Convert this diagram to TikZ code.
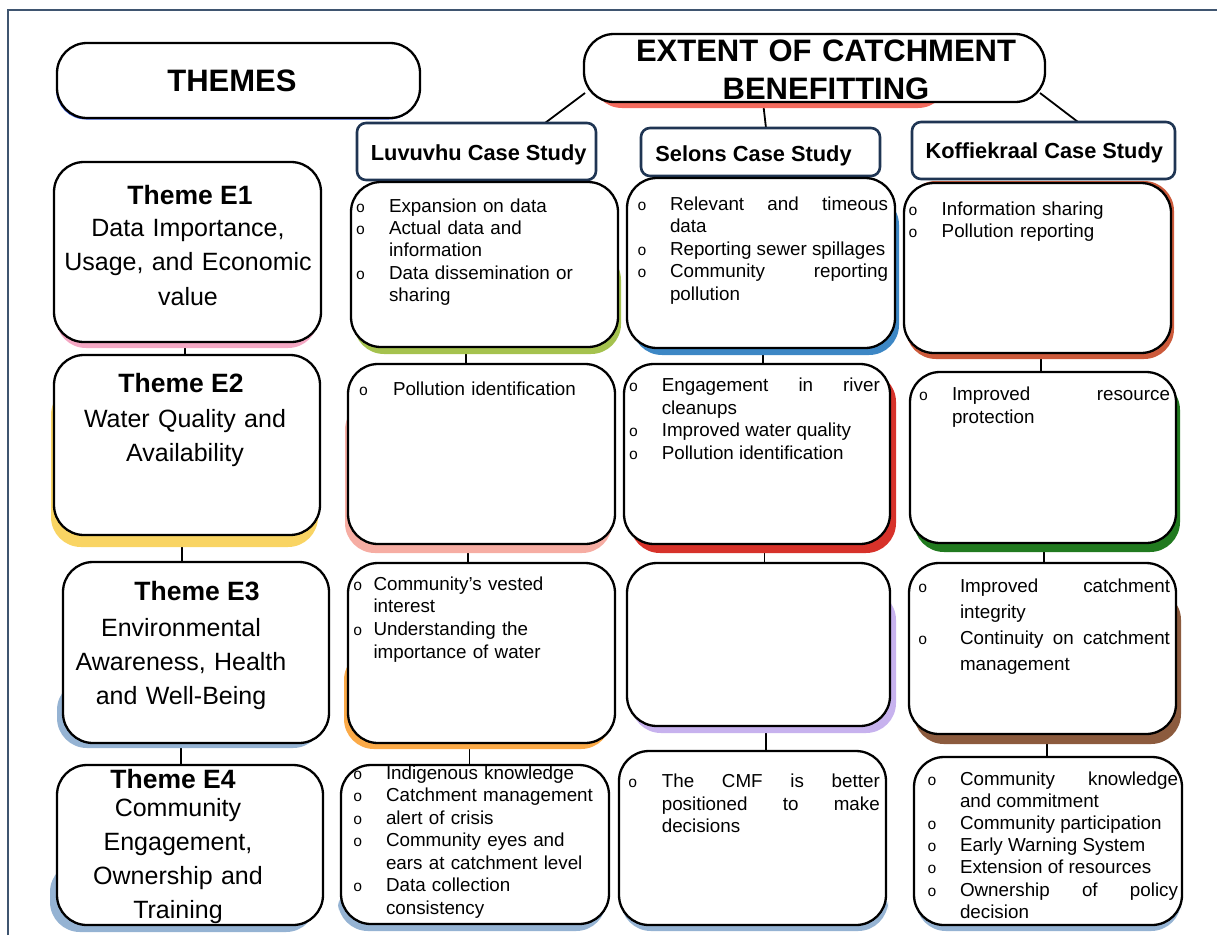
\documentclass[tikz,border=0pt]{standalone}
\usepackage{fontspec}
\setmainfont{Liberation Sans}
\newfontfamily\bulletfont{Liberation Mono}

\definecolor{framec}{HTML}{3F5570}
\definecolor{navy}{HTML}{1F3553}
\definecolor{shthemes}{HTML}{3A5CE0}
\definecolor{shext}{HTML}{F46B5E}
\definecolor{shpink}{HTML}{F4A7C3}
\definecolor{shyellow}{HTML}{F9D463}
\definecolor{shgrey}{HTML}{95B3D3}
\definecolor{shlime}{HTML}{A5C24E}
\definecolor{shsalmon}{HTML}{F6ADA3}
\definecolor{shorange}{HTML}{FBAA48}
\definecolor{shblue}{HTML}{3D87C5}
\definecolor{shred}{HTML}{D7322A}
\definecolor{shlilac}{HTML}{C7B2EE}
\definecolor{shrust}{HTML}{CC5A3B}
\definecolor{shgreen}{HTML}{217A1F}
\definecolor{shbrown}{HTML}{8C5B3E}

\pgfdeclarelayer{links}
\pgfdeclarelayer{shade}
\pgfsetlayers{links,shade,main}

\newlength\bd
% one bullet point: hollow circle hanging \bd to the left of the text
\newcommand\itm[1]{\leavevmode\llap{\makebox[0pt][c]{\bulletfont\fontsize{15.5}{15.5}\selectfont o}\hspace{\bd}}#1\par}
% rounded box given by its corners
\newcommand\mkbox[6][bx]{\node[#1, minimum width={#5pt-#3pt}, minimum height={#6pt-#4pt}] (#2) at ({(#3+#5)/2},{(#4+#6)/2}) {};}
% coloured shadow behind a box
\newcommand\shd[5]{\fill[#1, rounded corners=30pt] (#2,#3) rectangle (#4,#5);}
\hyphenpenalty=10000

\begin{document}
\begin{tikzpicture}[x=1pt,y=-1pt,
  bx/.style={draw=black, line width=2.3pt, fill=white, rounded corners=30pt, inner sep=0pt, outer sep=0pt},
  hdr/.style={draw=navy, line width=2.6pt, fill=white, rounded corners=9pt, inner sep=0pt, outer sep=0pt},
  conn/.style={draw=black, line width=1.8pt},
  frame/.style={draw=framec, line width=1.8pt},
  ttl/.style={inner sep=0pt, outer sep=0pt, anchor=base, font=\bfseries\fontsize{31}{37.3}\selectfont},
  htxt/.style={inner sep=0pt, outer sep=0pt, anchor=base, font=\bfseries\fontsize{21.8}{26}\selectfont},
  thead/.style={inner sep=0pt, outer sep=0pt, anchor=base, font=\bfseries\fontsize{26.5}{32}\selectfont},
  tbody/.style={inner sep=0pt, outer sep=0pt, anchor=base, text width=300pt, align=center},
  lst/.style={inner sep=0pt, outer sep=0pt, anchor=base west, align=left, text width=225pt},
  jst/.style={inner sep=0pt, outer sep=0pt, anchor=base west, align=justify, text width=218pt},
]
\useasboundingbox (0,0) rectangle (1217,935);
\draw[frame] (8,935) -- (8,10) -- (1217,10);

% title boxes
\mkbox{themes}{57}{43}{420}{118}
\mkbox{ext}{584}{34}{1045}{102}
\mkbox[hdr]{lh}{357}{123}{596}{180}
\mkbox[hdr]{sh}{641}{128}{880}{176}
\mkbox[hdr]{kh}{912}{122}{1175}{179}

% themes column
\mkbox{e1}{54}{162}{321}{342}
\mkbox{e2}{54}{355}{320}{535}
\mkbox{e3}{63}{562}{329}{743}
\mkbox{e4}{57}{765}{323}{925}

% Luvuvhu column
\mkbox{l1}{351}{182}{618}{347}
\mkbox{l2}{348}{364}{615}{544}
\mkbox{l3}{348}{563}{615}{743}
\mkbox{l4}{341}{765}{609}{924}

% Selons column
\mkbox{s1}{627}{178}{895}{348}
\mkbox{s2}{624}{364}{890}{544}
\mkbox{s3}{627}{563}{890}{726}
\mkbox{s4}{619}{751}{886}{925}

% Koffiekraal column
\mkbox{k1}{904}{183}{1171}{353}
\mkbox{k2}{910}{372}{1176}{543}
\mkbox{k3}{909}{563}{1176}{734}
\mkbox{k4}{914}{757}{1182}{925}

\begin{pgfonlayer}{shade}
\shd{shthemes}{56}{44.5}{419}{119.5}
\shd{shext}{592}{60}{948}{108}
\shd{shpink}{56}{200}{318}{348}
\shd{shyellow}{51}{385}{318}{547}
\shd{shgrey}{57}{680}{323}{748}
\shd{shgrey}{50}{862}{316}{932}
\shd{shlime}{354}{250}{621}{354}
\shd{shsalmon}{345}{400}{612}{553}
\shd{shorange}{344}{650}{611}{749}
\shd{shgrey}{338}{880}{606}{931}
\shd{shblue}{632}{195}{899}{355}
\shd{shred}{630}{372}{896}{553}
\shd{shlilac}{631}{590}{896}{733}
\shd{shgrey}{621}{880}{888}{931}
\shd{shrust}{906}{181}{1174}{359}
\shd{shgreen}{914}{380}{1180}{552}
\shd{shbrown}{914}{590}{1181}{744}
\shd{shgrey}{916}{880}{1181}{931}
\end{pgfonlayer}

\begin{pgfonlayer}{links}
\draw[conn] ([shift={(1,-9)}]ext.south west) -- ([xshift=68.5pt]lh.north);
\draw[conn] ([xshift=-51.5pt]ext.south) -- ([xshift=5.5pt]sh.north);
\draw[conn] ([shift={(-5,-9)}]ext.south east) -- ([xshift=34.5pt]kh.north);
\draw[conn] ([xshift=-2.5pt]e1.south) -- ([xshift=-2.5pt]e1.south |- e2.north);
\draw[conn] ([xshift=-5pt]e2.south) -- ([xshift=-5pt]e2.south |- e3.north);
\draw[conn] ([xshift=-15pt]e3.south) -- ([xshift=-15pt]e3.south |- e4.north);
\draw[conn] ([xshift=-18.5pt]l1.south) -- ([xshift=-18.5pt]l1.south |- l2.north);
\draw[conn] ([xshift=-13.5pt]l2.south) -- ([xshift=-13.5pt]l2.south |- l3.north);
\draw[conn] ([xshift=-12pt]l3.south) -- ([xshift=-12pt]l3.south |- l4.north);
\draw[conn] ([xshift=2pt]s1.south) -- ([xshift=2pt]s1.south |- s2.north);
\draw[conn] ([xshift=7.5pt]s2.south) -- ([xshift=7.5pt]s2.south |- s3.north);
\draw[conn] ([xshift=7.5pt]s3.south) -- ([xshift=7.5pt]s3.south |- s4.north);
\draw[conn] ([xshift=3.5pt]k1.south) -- ([xshift=3.5pt]k1.south |- k2.north);
\draw[conn] ([xshift=1pt]k2.south) -- ([xshift=1pt]k2.south |- k3.north);
\draw[conn] ([xshift=4.5pt]k3.south) -- ([xshift=4.5pt]k3.south |- k4.north);
\end{pgfonlayer}

% titles
\node[ttl] (themest) at (232,91.7) {THEMES};
\node[ttl, text width=470pt, align=center] (extt) at (826,61.7) {EXTENT OF CATCHMENT\\BENEFITTING};
\node[htxt] (lht) at (478.7,160) {Luvuvhu Case Study};
\node[htxt] (sht) at (753.5,161.7) {Selons Case Study};
\node[htxt] (kht) at (1044.3,158.3) {Koffiekraal Case Study};

% theme texts
\node[thead] (e1h) at (190,204) {Theme E1};
\node[tbody, font=\fontsize{25}{34.5}\selectfont] (e1b) at (188,236) {Data Importance,\\Usage, and Economic\\value};
\node[thead] (e2h) at (181,392) {Theme E2};
\node[tbody, font=\fontsize{25}{34}\selectfont] (e2b) at (185,427.3) {Water Quality and\\Availability};
\node[thead] (e3h) at (197,600) {Theme E3};
\node[tbody, font=\fontsize{25}{34}\selectfont] (e3b) at (181,636) {Environmental\\Awareness, Health\\and Well-Being};
\node[thead] (e4h) at (173,788.5) {Theme E4};
\node[tbody, font=\fontsize{25}{34.3}\selectfont] (e4b) at (178,816) {Community\\Engagement,\\Ownership and\\Training};

% Luvuvhu lists
\node[lst, font=\fontsize{18.8}{22.4}\selectfont] (l1t) at (389,212) {\setlength\bd{28.5pt}%
\itm{Expansion on data}\itm{Actual data and\newline information}\itm{Data dissemination or\newline sharing}};
\node[lst, font=\fontsize{18.8}{22.4}\selectfont] (l2t) at (393,395) {\setlength\bd{29.4pt}%
\itm{Pollution identification}};
\node[lst, font=\fontsize{18.8}{22.8}\selectfont] (l3t) at (373.5,590) {\setlength\bd{15.8pt}%
\itm{Community’s vested\newline interest}\itm{Understanding the\newline importance of water}};
\node[lst, font=\fontsize{18.8}{22.45}\selectfont] (l4t) at (386,779.3) {\setlength\bd{28.3pt}%
\itm{Indigenous knowledge}\itm{Catchment management}\itm{alert of crisis}\itm{Community eyes and\newline ears at catchment level}\itm{Data collection\newline consistency}};

% Selons lists
\node[jst, font=\fontsize{18.8}{22.6}\selectfont] (s1t) at (670,210) {\setlength\bd{28pt}%
\itm{Relevant and timeous\linebreak data}\itm{Reporting sewer spillages}\itm{Community reporting\linebreak pollution}};
\node[jst, font=\fontsize{18.8}{22.6}\selectfont] (s2t) at (661.8,391.7) {\setlength\bd{28.3pt}%
\itm{Engagement in river\linebreak cleanups}\itm{Improved water quality}\itm{Pollution identification}};
\node[jst, font=\fontsize{18.8}{22.3}\selectfont] (s4t) at (661.8,787.7) {\setlength\bd{29.1pt}%
\itm{The CMF is better\linebreak positioned to make\linebreak decisions}};

% Koffiekraal lists
\node[lst, font=\fontsize{18.8}{22}\selectfont] (k1t) at (941.7,215) {\setlength\bd{28.7pt}%
\itm{Information sharing}\itm{Pollution reporting}};
\node[jst, font=\fontsize{18.8}{23}\selectfont] (k2t) at (952,400.7) {\setlength\bd{28.4pt}%
\itm{Improved resource\linebreak protection}};
\node[jst, text width=210pt, font=\fontsize{18.8}{25.9}\selectfont] (k3t) at (960,592.3) {\setlength\bd{37.2pt}%
\itm{Improved catchment\linebreak integrity}\itm{Continuity on catchment\linebreak management}};
\node[jst, font=\fontsize{18.8}{22.2}\selectfont] (k4t) at (960,785) {\setlength\bd{28.1pt}%
\itm{Community knowledge\linebreak and commitment}\itm{Community participation}\itm{Early Warning System}\itm{Extension of resources}\itm{Ownership of policy\linebreak decision}};
\end{tikzpicture}
\end{document}
